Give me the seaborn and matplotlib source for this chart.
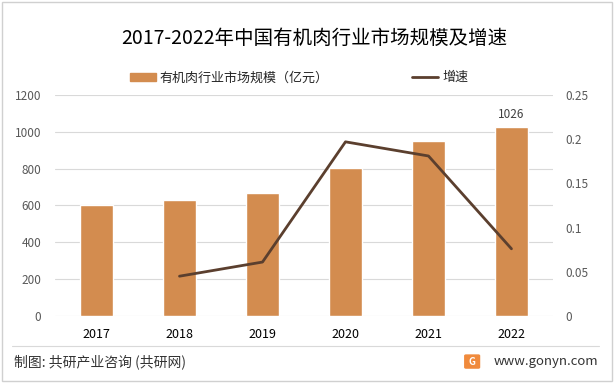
import numpy as np
import pandas as pd
import matplotlib.pyplot as plt
import seaborn as sns
from matplotlib.patches import FancyBboxPatch, Rectangle
from matplotlib.lines import Line2D

sns.set_style("white")
plt.rcParams['font.family'] = ['Noto Sans CJK SC', 'DejaVu Sans']

# data
years = ['2017', '2018', '2019', '2020', '2021', '2022']
scale = [605, 630, 668, 804, 950, 1026]
growth_years = ['2018', '2019', '2020', '2021', '2022']
growth = [0.045, 0.061, 0.197, 0.181, 0.076]

bar_color = '#D38C4F'
line_color = '#5B3F2E'
tick_color = '#595959'

fig = plt.figure(figsize=(6.14, 3.83), dpi=100)
ax = fig.add_axes([0.0896, 0.175, 0.811, 0.577])

df = pd.DataFrame({'year': years, 'scale': scale})
sns.barplot(data=df, x='year', y='scale', color=bar_color, width=0.4,
            saturation=1, ax=ax, zorder=2)
ax.set_ylim(0, 1200)
ax.set_yticks(range(0, 1201, 200))
ax.yaxis.grid(True, color='#D9D9D9', linewidth=0.8, zorder=0)
ax.set_axisbelow(True)
ax.set_xlabel('')
ax.set_ylabel('')
for s in ax.spines.values():
    s.set_visible(False)
ax.tick_params(axis='y', length=0, labelsize=8.5, labelcolor=tick_color, pad=10)
ax.tick_params(axis='x', length=0, labelsize=9, labelcolor='black', pad=9)
ax.set_xlim(-0.5, len(years) - 0.5)

# label on last bar
ax.bar_label(ax.containers[0], labels=[''] * (len(years) - 1) + [str(scale[-1])],
             padding=4, fontsize=8.5, color='#404040')

ax2 = ax.twinx()
pos = [years.index(y) for y in growth_years]
gdf = pd.DataFrame({'pos': pos, 'growth': growth})
sns.lineplot(data=gdf, x='pos', y='growth', color=line_color, linewidth=2,
             ax=ax2)
ax2.set_ylim(0, 0.25)
ax2.set_yticks([0, 0.05, 0.1, 0.15, 0.2, 0.25])
ax2.set_yticklabels(['0', '0.05', '0.1', '0.15', '0.2', '0.25'])
ax2.set_ylabel('')
for s in ax2.spines.values():
    s.set_visible(False)
ax2.tick_params(axis='y', length=0, labelsize=8.5, labelcolor=tick_color, pad=9)
ax2.set_xlim(-0.5, len(years) - 0.5)

# title
fig.text(0.512, 0.9, '2017-2022年中国有机肉行业市场规模及增速', ha='center', va='center',
         fontsize=14, color='black')

# legend
handles = [Rectangle((0, 0), 1, 1, color=bar_color),
           Line2D([0], [0], color=line_color, linewidth=2)]
fig.legend(handles, ['有机肉行业市场规模（亿元）', '增速'], loc='center',
           bbox_to_anchor=(0.487, 0.797), ncol=2, frameon=False, fontsize=9.4,
           columnspacing=6.4, handlelength=2.0, handleheight=0.55,
           handletextpad=0.3)

# footer
fig.add_artist(Line2D([0.02, 0.975], [0.097, 0.097], color='#D9D9D9', linewidth=0.8))
fig.text(0.022, 0.055, '制图: 共研产业咨询 (共研网)', ha='left', va='center',
         fontsize=10, color='#333333')
fig.text(0.974, 0.055, 'www.gonyn.com', ha='right', va='center',
         fontsize=9.5, color='#333333')
fig.add_artist(FancyBboxPatch((0.759, 0.041), 0.02, 0.03,
                              boxstyle='round,pad=0.002', color='#F08A3C'))
fig.text(0.769, 0.056, 'G', ha='center', va='center', fontsize=7,
         color='white', fontweight='bold')

# outer border
fig.add_artist(Rectangle((0.003, 0.004), 0.994, 0.99, fill=False,
                         edgecolor='#D0D0D0', linewidth=1))

fig.savefig('out.png', dpi=100)
